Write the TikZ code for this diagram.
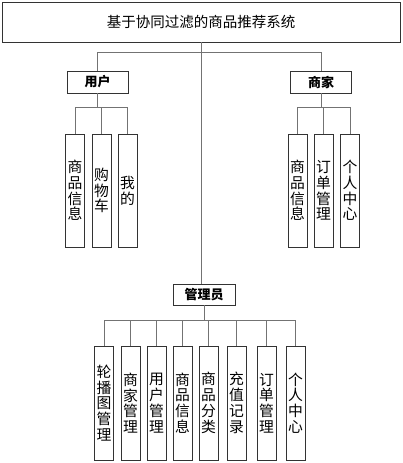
\documentclass[tikz,border=0pt]{standalone}
\usepackage{fontspec}
\newfontfamily\cjk{Noto Sans CJK SC}
\begin{document}
\begin{tikzpicture}[x=1pt,y=-1pt,
  box/.style={draw=black!80, line width=0.8pt, fill=white, inner sep=0pt},
  vbox/.style={box, minimum width=19pt, minimum height=113pt, font=\cjk\fontsize{14.8}{15.8}\selectfont, align=center},
  lbl/.style={box, minimum width=61pt, minimum height=22pt, font=\cjk\bfseries\fontsize{13}{15}\selectfont},
  conn/.style={draw=black!55, line width=0.8pt}]
\fill[white] (0,0) rectangle (403,463);
\useasboundingbox (0,0) rectangle (403,463);
% title
\node[box, minimum width=398pt, minimum height=40pt, font=\cjk\fontsize{14.5}{16}\selectfont] (top) at (201,22) {基于协同过滤的商品推荐系统};
% level 1
\node[lbl] (user) at (97.5,82) {用户};
\node[lbl] (shop) at (321,82) {商家};
\node[lbl, minimum width=62pt, minimum height=21pt] (admin) at (204,294.5) {管理员};
% user children
\node[vbox] (u1) at (75,190.5) {商\\品\\信\\息};
\node[vbox] (u2) at (101.5,190.5) {购\\物\\车};
\node[vbox] (u3) at (127.5,190.5) {我\\的};
% shop children
\node[vbox] (s1) at (297.5,190.5) {商\\品\\信\\息};
\node[vbox] (s2) at (323.5,190.5) {订\\单\\管\\理};
\node[vbox] (s3) at (350,190.5) {个\\人\\中\\心};
% admin children
\node[vbox, minimum height=114pt] (a1) at (104,403) {轮\\播\\图\\管\\理};
\node[vbox, minimum height=114pt] (a2) at (130.5,403) {商\\家\\管\\理};
\node[vbox, minimum height=114pt] (a3) at (156.5,403) {用\\户\\管\\理};
\node[vbox, minimum height=114pt] (a4) at (182.5,403) {商\\品\\信\\息};
\node[vbox, minimum height=114pt] (a5) at (208.5,403) {商\\品\\分\\类};
\node[vbox, minimum height=114pt] (a6) at (236.5,403) {充\\值\\记\\录};
\node[vbox, minimum height=114pt] (a7) at (266.5,403) {订\\单\\管\\理};
\node[vbox, minimum height=114pt] (a8) at (295.5,403) {个\\人\\中\\心};
% bus coordinates
\coordinate (tb) at (201,52);
\coordinate (ub) at (97.5,107);
\coordinate (sb) at (321,107);
\coordinate (ab) at (204,320);
% connectors
\draw[conn] (top.south) -- (tb);
\draw[conn] (tb) -| (user.north);
\draw[conn] (tb) -| (shop.north);
\draw[conn] (tb) -- (admin.north -| tb);
\draw[conn] (user.south) -- (ub);
\foreach \c in {u1,u2,u3} \draw[conn] (ub) -| (\c.north);
\draw[conn] (shop.south) -- (sb);
\foreach \c in {s1,s2,s3} \draw[conn] (sb) -| (\c.north);
\draw[conn] (admin.south) -- (ab);
\foreach \c in {a1,a2,a3,a4,a5,a6,a7,a8} \draw[conn] (ab) -| (\c.north);
\end{tikzpicture}
\end{document}
